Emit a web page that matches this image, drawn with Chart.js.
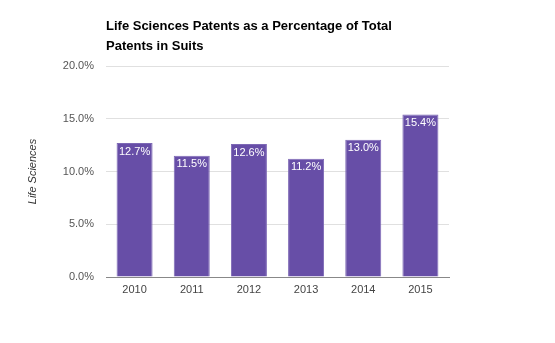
<!DOCTYPE html>
<html><head><meta charset="utf-8">
<script src="https://cdn.jsdelivr.net/npm/chart.js@4"></script>
<style>
html,body{margin:0;padding:0;background:#fff;}
#wrap{position:relative;width:555px;height:343px;}
#title{position:absolute;left:106px;top:16px;font:bold 13px "Liberation Sans",Arial,sans-serif;line-height:20px;color:#000;}
canvas{position:absolute;left:0;top:0;}
</style></head>
<body>
<div id="wrap">
<canvas id="c" width="555" height="343"></canvas>
<div id="title">Life Sciences Patents as a Percentage of Total<br>Patents in Suits</div>
</div>
<script>
const categories = ["2010","2011","2012","2013","2014","2015"];
const lifeSciences = [12.7, 11.5, 12.6, 11.2, 13.0, 15.4];
const yTicks = [0, 5, 10, 15, 20];

const labelPlugin = {
  id: 'barLabels',
  afterDatasetsDraw(chart) {
    const ctx = chart.ctx;
    const meta = chart.getDatasetMeta(0);
    ctx.save();
    ctx.font = '11px "Liberation Sans", Arial, sans-serif';
    ctx.fillStyle = '#ffffff';
    ctx.textAlign = 'center';
    ctx.textBaseline = 'top';
    meta.data.forEach((bar, i) => {
      ctx.fillText(lifeSciences[i].toFixed(1) + '%', bar.x, bar.y + 3);
    });
    ctx.restore();
  }
};

new Chart(document.getElementById('c'), {
  type: 'bar',
  data: {
    labels: categories,
    datasets: [{
      label: 'Life Sciences',
      data: lifeSciences,
      backgroundColor: '#674ea7',
      borderColor: '#7d68b5',
      borderWidth: 1,
      barPercentage: 0.63,
      categoryPercentage: 1
    }]
  },
  options: {
    responsive: false,
    animation: false,
    layout: { padding: { left: 22, right: 106, top: 66, bottom: 36 } },
    plugins: { legend: { display: false }, tooltip: { enabled: false }, title: { display: false } },
    scales: {
      x: {
        grid: { display: false, drawTicks: false },
        border: { display: true, color: '#888', width: 1 },
        ticks: { color: '#444', padding: 6, font: { family: '"Liberation Sans", Arial, sans-serif', size: 11 } },
        afterFit(s) { s.height = 30; }
      },
      y: {
        min: 0, max: 20,
        afterBuildTicks(s) { s.ticks = yTicks.map(v => ({ value: v })); },
        grid: {
          drawTicks: false,
          color: (c) => c.tick && c.tick.value === 0 ? '#888' : '#e0e0e0',
          lineWidth: 1
        },
        border: { display: false },
        ticks: {
          color: '#555', padding: 12,
          font: { family: '"Liberation Sans", Arial, sans-serif', size: 11 },
          callback: (v) => Number(v).toFixed(1) + '%'
        },
        title: {
          display: true, text: 'Life Sciences', color: '#333',
          font: { family: '"Liberation Sans", Arial, sans-serif', size: 11, style: 'italic' }
        },
        afterFit(s) { s.width = 84; }
      }
    }
  },
  plugins: [labelPlugin]
});
</script>
</body></html>
